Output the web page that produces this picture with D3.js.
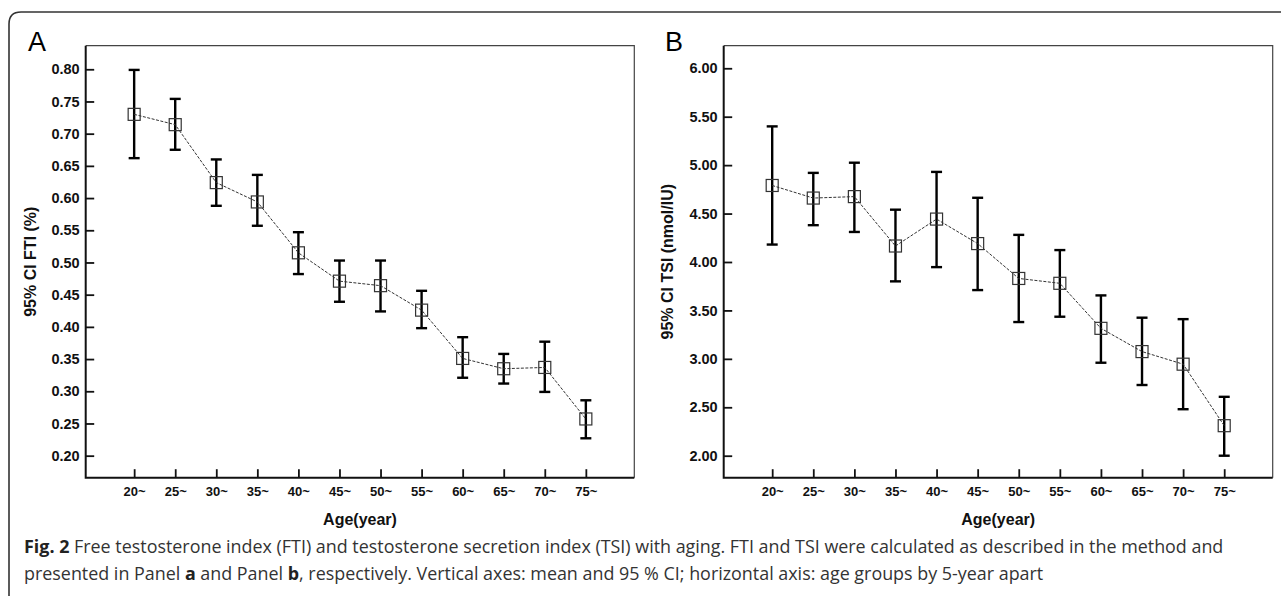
<!DOCTYPE html>
<html>
<head>
<meta charset="utf-8">
<script src="https://cdn.jsdelivr.net/npm/d3@7"></script>
<style>
  body { margin: 0; background: #fff; }
  svg { display: block; }
</style>
</head>
<body>
<div id="chart"></div>
<script>
// age groups on the x axis
const ageGroups = ["20~", "25~", "30~", "35~", "40~", "45~", "50~", "55~", "60~", "65~", "70~", "75~"];

// panel A: FTI mean and 95% CI
const ftiMean  = [0.730, 0.714, 0.624, 0.594, 0.515, 0.471, 0.464, 0.426, 0.351, 0.335, 0.337, 0.257];
const ftiLower = [0.662, 0.675, 0.588, 0.557, 0.482, 0.439, 0.424, 0.398, 0.321, 0.312, 0.299, 0.227];
const ftiUpper = [0.799, 0.754, 0.660, 0.636, 0.547, 0.503, 0.503, 0.456, 0.384, 0.358, 0.377, 0.286];
const ftiTicks = [0.20, 0.25, 0.30, 0.35, 0.40, 0.45, 0.50, 0.55, 0.60, 0.65, 0.70, 0.75, 0.80];

// panel B: TSI mean and 95% CI
const tsiMean  = [4.79, 4.66, 4.675, 4.165, 4.443, 4.19, 3.83, 3.78, 3.315, 3.075, 2.945, 2.31];
const tsiLower = [4.18, 4.38, 4.31, 3.80, 3.947, 3.71, 3.38, 3.435, 2.96, 2.73, 2.48, 2.00];
const tsiUpper = [5.40, 4.92, 5.025, 4.54, 4.93, 4.663, 4.28, 4.123, 3.655, 3.425, 3.41, 2.608];
const tsiTicks = [2.00, 2.50, 3.00, 3.50, 4.00, 4.50, 5.00, 5.50, 6.00];

const W = 1281, H = 596;

const svg = d3.select("#chart")
  .append("svg")
    .attr("width", W)
    .attr("height", H);

// outer box of the figure (rounded top-left corner, open at right/bottom)
svg.append("path")
  .attr("d", "M9,600 L9,24 Q9,12 21,12 L1290,12")
  .style("fill", "none")
  .style("stroke", "#333")
  .style("stroke-width", 1.6);

const tickFont = "'Liberation Sans Narrow','Arial Narrow','Liberation Sans',Arial,sans-serif";
const boldFont = "'Liberation Sans',Arial,sans-serif";

function drawPanel(p) {
  const x = d3.scalePoint()
    .domain(ageGroups)
    .range([p.left, p.right])
    .padding(1.18);

  const y = d3.scaleLinear()
    .domain(p.yDomain)
    .range([477.7, 45.7]);

  const g = svg.append("g");

  // panel letter
  g.append("text")
    .attr("x", p.letterX)
    .attr("y", 51)
    .style("font-family", boldFont)
    .style("font-size", "27px")
    .style("fill", "#000")
    .text(p.letter);

  // thin frame (top and right)
  g.append("path")
    .attr("d", `M${p.left},45.7 L${p.right},45.7 L${p.right},477.7`)
    .style("fill", "none")
    .style("stroke", "#444")
    .style("stroke-width", 1.2);

  // y axis, ticks pointing inward
  const yAxis = g.append("g")
    .attr("transform", `translate(${p.left},0)`)
    .call(d3.axisRight(y).tickValues(p.ticks).tickSize(8.5).tickFormat(d3.format(".2f")));
  yAxis.select(".domain").remove();
  yAxis.selectAll(".tick line").style("stroke", "#111").style("stroke-width", 1.8);
  yAxis.selectAll(".tick text")
    .attr("x", -6)
    .attr("text-anchor", "end")
    .style("font-family", tickFont)
    .style("font-weight", "bold")
    .style("font-size", "14.5px")
    .style("fill", "#111");

  // x axis, ticks pointing up
  const xAxis = g.append("g")
    .attr("transform", "translate(0,477.7)")
    .call(d3.axisTop(x).tickSize(8.5));
  xAxis.select(".domain").remove();
  xAxis.selectAll(".tick line").style("stroke", "#111").style("stroke-width", 1.8);
  xAxis.selectAll(".tick text")
    .attr("y", 18)
    .attr("dy", "0")
    .style("font-family", tickFont)
    .style("font-weight", "bold")
    .style("font-size", "13px")
    .style("fill", "#111");

  // heavy left and bottom axis lines
  g.append("path")
    .attr("d", `M${p.left},45.7 L${p.left},477.7 L${p.right},477.7`)
    .style("fill", "none")
    .style("stroke", "#111")
    .style("stroke-width", 2);

  // axis titles
  g.append("text")
    .attr("x", (p.left + p.right) / 2)
    .attr("y", 525)
    .attr("text-anchor", "middle")
    .style("font-family", boldFont)
    .style("font-weight", "bold")
    .style("font-size", "16px")
    .style("fill", "#111")
    .text("Age(year)");

  g.append("text")
    .attr("transform", `translate(${p.titleX},261.7) rotate(-90)`)
    .attr("text-anchor", "middle")
    .style("font-family", boldFont)
    .style("font-weight", "bold")
    .style("font-size", "16px")
    .style("fill", "#111")
    .text(p.yTitle);

  const rows = ageGroups.map((a, i) => ({age: a, mean: p.mean[i], lo: p.lower[i], hi: p.upper[i]}));

  // error bars
  const bars = g.append("g").selectAll("g")
    .data(rows)
    .join("g");
  bars.append("line")
    .attr("x1", d => x(d.age)).attr("x2", d => x(d.age))
    .attr("y1", d => y(d.lo)).attr("y2", d => y(d.hi))
    .style("stroke", "#000").style("stroke-width", 2.4);
  bars.selectAll(".cap")
    .data(d => [d.lo, d.hi].map(v => ({age: d.age, v: v})))
    .join("line")
    .attr("class", "cap")
    .attr("x1", d => x(d.age) - 5.5).attr("x2", d => x(d.age) + 5.5)
    .attr("y1", d => y(d.v)).attr("y2", d => y(d.v))
    .style("stroke", "#000").style("stroke-width", 2.4);

  // dashed mean line
  g.append("path")
    .datum(rows)
    .attr("d", d3.line().x(d => x(d.age)).y(d => y(d.mean)))
    .style("fill", "none")
    .style("stroke", "#333")
    .style("stroke-width", 1)
    .style("stroke-dasharray", "3,1.5");

  // hollow square markers
  g.append("g").selectAll("rect")
    .data(rows)
    .join("rect")
    .attr("x", d => x(d.age) - 6)
    .attr("y", d => y(d.mean) - 6)
    .attr("width", 12)
    .attr("height", 12)
    .style("fill", "none")
    .style("stroke", "#333")
    .style("stroke-width", 1.2);
}

drawPanel({
  letter: "A", letterX: 28,
  left: 85.7, right: 634.3,
  yDomain: [0.1658, 0.8366],
  ticks: ftiTicks,
  mean: ftiMean, lower: ftiLower, upper: ftiUpper,
  yTitle: "95% CI FTI (%)", titleX: 36
});

drawPanel({
  letter: "B", letterX: 665,
  left: 723.7, right: 1272.7,
  yDomain: [1.773, 6.233],
  ticks: tsiTicks,
  mean: tsiMean, lower: tsiLower, upper: tsiUpper,
  yTitle: "95% CI TSI (nmol/IU)", titleX: 673
});

// caption
const caption = svg.append("text")
  .style("font-family", "'Open Sans','Noto Sans',sans-serif")
  .style("font-size", "17.9px")
  .style("fill", "#333");

const line1 = caption.append("tspan").attr("x", 24).attr("y", 553);
line1.append("tspan").style("font-weight", "bold").style("fill", "#222").text("Fig. 2");
line1.append("tspan").text(" Free testosterone index (FTI) and testosterone secretion index (TSI) with aging. FTI and TSI were calculated as described in the method and");

const line2 = caption.append("tspan").attr("x", 24).attr("y", 580);
line2.append("tspan").text("presented in Panel ");
line2.append("tspan").style("font-weight", "bold").style("fill", "#222").text("a");
line2.append("tspan").text(" and Panel ");
line2.append("tspan").style("font-weight", "bold").style("fill", "#222").text("b");
line2.append("tspan").text(", respectively. Vertical axes: mean and 95 % CI; horizontal axis: age groups by 5-year apart");
</script>
</body>
</html>
